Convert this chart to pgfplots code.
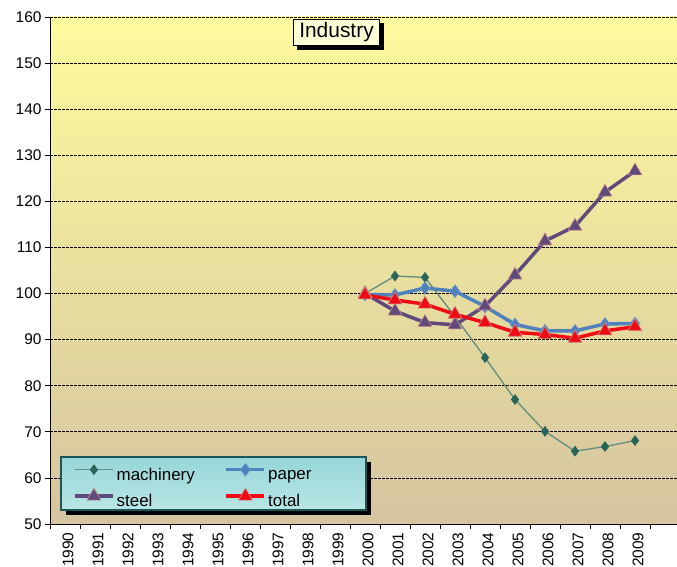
\documentclass[border=0pt]{standalone}
\usepackage{pgfplots}
\pgfplotsset{compat=1.18}
\usepackage{fontspec}
\setmainfont{Liberation Sans}
\usetikzlibrary{shadows}
\definecolor{bgtop}{RGB}{255,251,158}
\definecolor{bgmid}{RGB}{244,238,205}
\definecolor{bgbot}{RGB}{212,196,160}
\definecolor{machline}{RGB}{100,140,125}
\definecolor{machmark}{RGB}{40,100,90}
\definecolor{paperc}{RGB}{79,129,189}
\definecolor{steelc}{RGB}{96,74,123}
\definecolor{totalc}{RGB}{240,10,20}
\definecolor{pinkedge}{RGB}{205,140,140}
\definecolor{legborder}{RGB}{30,85,85}
\definecolor{legtop}{RGB}{150,214,216}
\definecolor{legmid}{RGB}{236,250,250}
\definecolor{legbot}{RGB}{185,230,230}
\definecolor{titlefill}{RGB}{255,255,215}
\begin{document}
\begin{tikzpicture}
\path[use as bounding box] (0,0) rectangle (677bp,567bp);
\begin{axis}[
  at={(50bp,43bp)}, anchor=south west,
  scale only axis, width=627bp, height=507bp,
  xmin=-0.5, xmax=20.4, ymin=50, ymax=160,
  axis x line*=bottom, axis y line*=left,
  axis line style={black, line width=0.8bp},
  axis background/.style={shade, top color=bgtop, middle color=bgmid, bottom color=bgbot},
  ytick={50,60,...,160},
  ymajorgrids, major grid style={black, line width=0.7bp, dash pattern=on 2.5bp off 1.5bp},
  tick align=outside, major tick length=5bp, minor tick length=5bp,
  tick style={black, line width=0.7bp},
  xtick={0,...,19},
  xticklabels={1990,1991,1992,1993,1994,1995,1996,1997,1998,1999,2000,2001,2002,2003,2004,2005,2006,2007,2008,2009},
  major x tick style={draw=none},
  minor xtick={-0.5,0.5,...,19.5},
  xticklabel style={rotate=90, anchor=east, font=\fontsize{15.5}{17}\selectfont, yshift=-3bp},
  yticklabel style={font=\fontsize{15.5}{17}\selectfont},
  /pgf/number format/assume math mode=true,
  legend columns=2,
  legend cell align=left,
  legend image code/.code={\draw[mark repeat=2,mark phase=2,#1] plot coordinates {(0bp,5.5bp) (19bp,5.5bp) (38bp,5.5bp)};},
  legend style={at={(0.0175,0.1321)}, anchor=north west,
    draw=none, fill=none,
    inner xsep=12bp, inner ysep=6bp, row sep=4bp,
    nodes={inner xsep=2bp, inner ysep=2bp},
    font=\fontsize{17}{19}\selectfont},
]
\addplot[color=machline, line width=1.3bp, mark=diamond*, mark size=5bp,
  mark options={fill=machmark, draw=machmark, line width=0.5bp}]
  coordinates {(10,100) (11,103.8) (12,103.5) (13,95) (14,86.1) (15,77.0) (16,70.1) (17,65.8) (18,66.8) (19,68.1)};
\addlegendentry{\makebox[106bp][l]{machinery}}
\addplot[color=paperc, line width=3.5bp, mark=diamond*, mark size=6.5bp,
  mark options={fill=paperc, draw=paperc!80!white, line width=0.5bp}]
  coordinates {(10,99.8) (11,99.7) (12,101.2) (13,100.5) (14,97.2) (15,93.3) (16,91.9) (17,91.9) (18,93.4) (19,93.5)};
\addlegendentry{\makebox[83bp][l]{paper}}
\addplot[color=steelc, line width=3.5bp, mark=triangle*, mark size=8bp,
  mark options={fill=steelc, draw=pinkedge, line width=0.6bp}]
  coordinates {(10,100) (11,96.2) (12,93.7) (13,93.2) (14,97.3) (15,104.0) (16,111.4) (17,114.6) (18,122.0) (19,126.6)};
\addlegendentry{\makebox[106bp][l]{steel}}
\addplot[color=totalc, line width=3.5bp, mark=triangle*, mark size=8bp,
  mark options={fill=totalc, draw=pinkedge, line width=0.6bp}]
  coordinates {(10,99.7) (11,98.6) (12,97.7) (13,95.5) (14,93.7) (15,91.6) (16,91.1) (17,90.3) (18,91.9) (19,92.8)};
\addlegendentry{\makebox[83bp][l]{total}}
\path[draw=legborder, line width=1.6bp, top color=legtop, middle color=legmid, bottom color=legbot,
  drop shadow={shadow xshift=5bp, shadow yshift=-5bp, fill=black, opacity=1}]
  (axis description cs:0.0175,0.1321) rectangle (axis description cs:0.504,0.0276);
\end{axis}
\node[draw=black, line width=1.2bp, fill=titlefill, inner xsep=6bp, inner ysep=3.5bp,
  drop shadow={shadow xshift=4bp, shadow yshift=-4bp, fill=black, opacity=1},
  font=\fontsize{21}{23}\selectfont] at (336.5bp,534.5bp) {Industry};
\end{tikzpicture}
\end{document}
